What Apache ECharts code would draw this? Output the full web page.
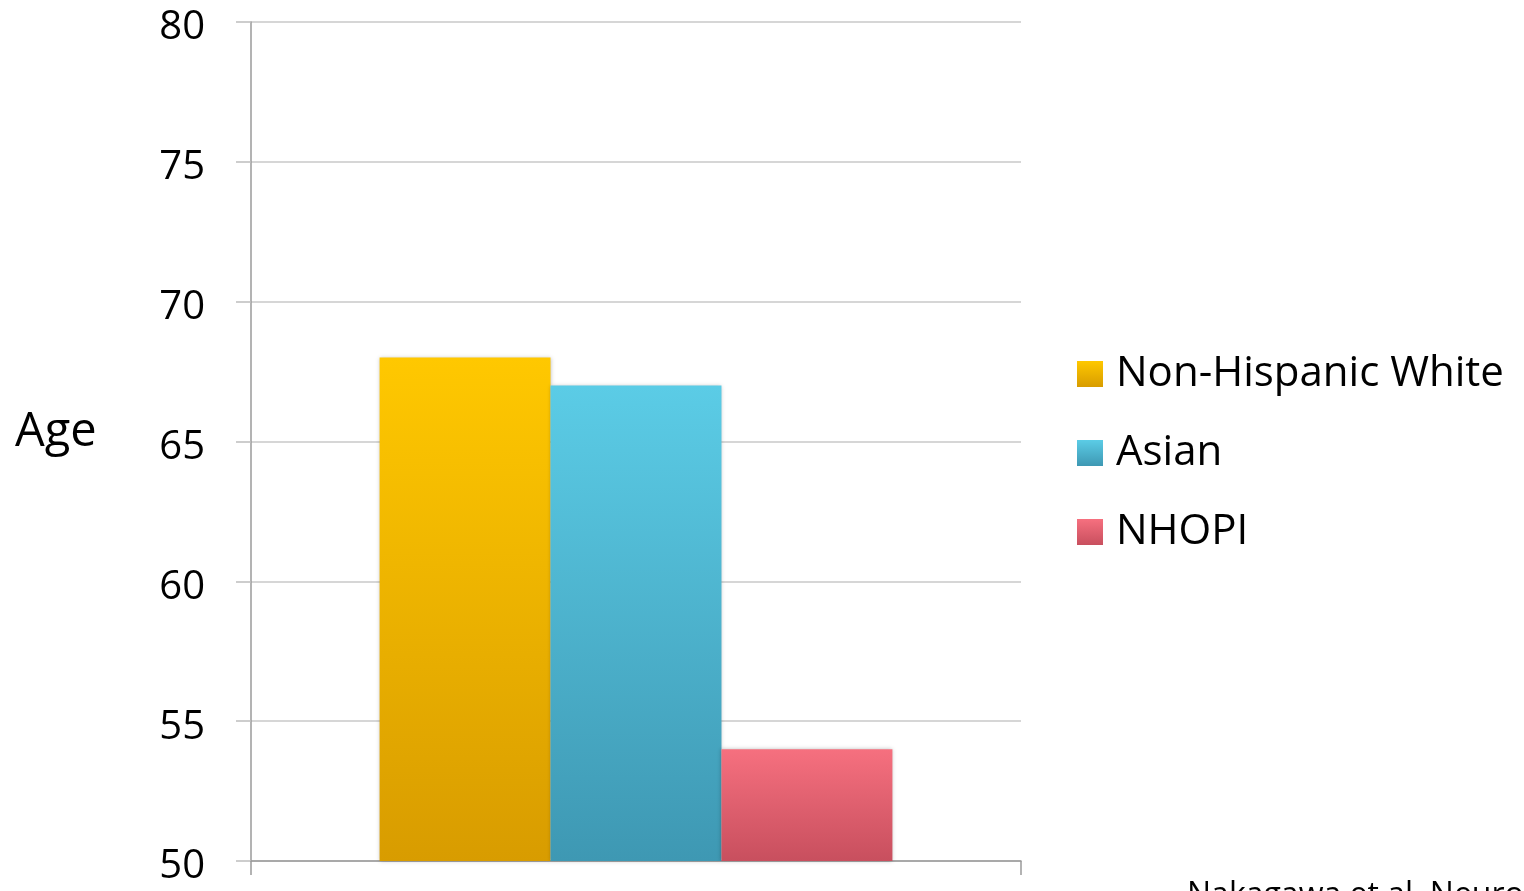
<!DOCTYPE html>
<html><head><meta charset="utf-8">
<script src="https://cdn.jsdelivr.net/npm/echarts@6/dist/echarts.min.js"></script>
<style>html,body{margin:0;padding:0;background:#fff}#c{width:1524px;height:891px}</style>
</head><body><div id="c"></div>
<script>
const categories = ['Age'];
const seriesNames = ['Non-Hispanic White', 'Asian', 'NHOPI'];
const nonHispanicWhite = [68];
const asian = [67];
const nhopi = [54];
const yTicks = [50, 55, 60, 65, 70, 75, 80];

const FONT = 'Open Sans';
function grad(top, bottom) {
  return new echarts.graphic.LinearGradient(0, 0, 0, 1, [{offset: 0, color: top}, {offset: 1, color: bottom}]);
}
const colors = [['#FFC800', '#D89C00'], ['#5BCCE6', '#3E98B3'], ['#F6707F', '#C84F5E']];
const values = [nonHispanicWhite, asian, nhopi];

const chart = echarts.init(document.getElementById('c'), null, {renderer: 'canvas'});
chart.setOption({
  animation: false,
  grid: {left: 251, right: 503, top: 22, bottom: 30},
  xAxis: {
    type: 'category', data: categories, boundaryGap: true,
    axisLine: {lineStyle: {color: '#9a9a9a', width: 1.5}},
    axisTick: {show: true, length: 14, lineStyle: {color: '#9a9a9a', width: 1.5}},
    axisLabel: {show: false}, splitLine: {show: false}
  },
  yAxis: {
    type: 'value', min: yTicks[0], max: yTicks[yTicks.length - 1], interval: 5,
    axisLine: {show: true, lineStyle: {color: '#9a9a9a', width: 1.5}},
    axisTick: {show: true, length: 15, lineStyle: {color: '#bdbdbd', width: 1.5}},
    splitLine: {show: true, lineStyle: {color: '#c8c8c8', width: 1.5}},
    axisLabel: {margin: 46, fontFamily: FONT, fontSize: 40, color: '#000', verticalAlign: 'top', lineHeight: 40, padding: [-14, 0, 0, 0]}
  },
  legend: {
    orient: 'vertical', left: 1077, top: 353, padding: 0,
    itemWidth: 26, itemHeight: 26, itemGap: 37,
    icon: 'rect',
    textStyle: {fontFamily: FONT, fontSize: 42, color: '#000', lineHeight: 26, padding: [0, 0, 0, 8]},
    data: seriesNames
  },
  graphic: [
    {type: 'text', left: 15, top: 409, style: {text: 'Age', fontFamily: FONT, fontSize: 47, fill: '#000'}},
    {type: 'text', left: 1187, top: 880, style: {text: 'Nakagawa et al. Neurology', fontFamily: FONT, fontSize: 32, fill: '#000'}}
  ],
  series: seriesNames.map((n, i) => ({
    name: n, type: 'bar', data: values[i],
    barGap: '0%', barCategoryGap: '33.4%',
    itemStyle: {color: grad(colors[i][0], colors[i][1]), shadowColor: 'rgba(0,0,0,0.25)', shadowBlur: 4}
  }))
});
</script></body></html>
